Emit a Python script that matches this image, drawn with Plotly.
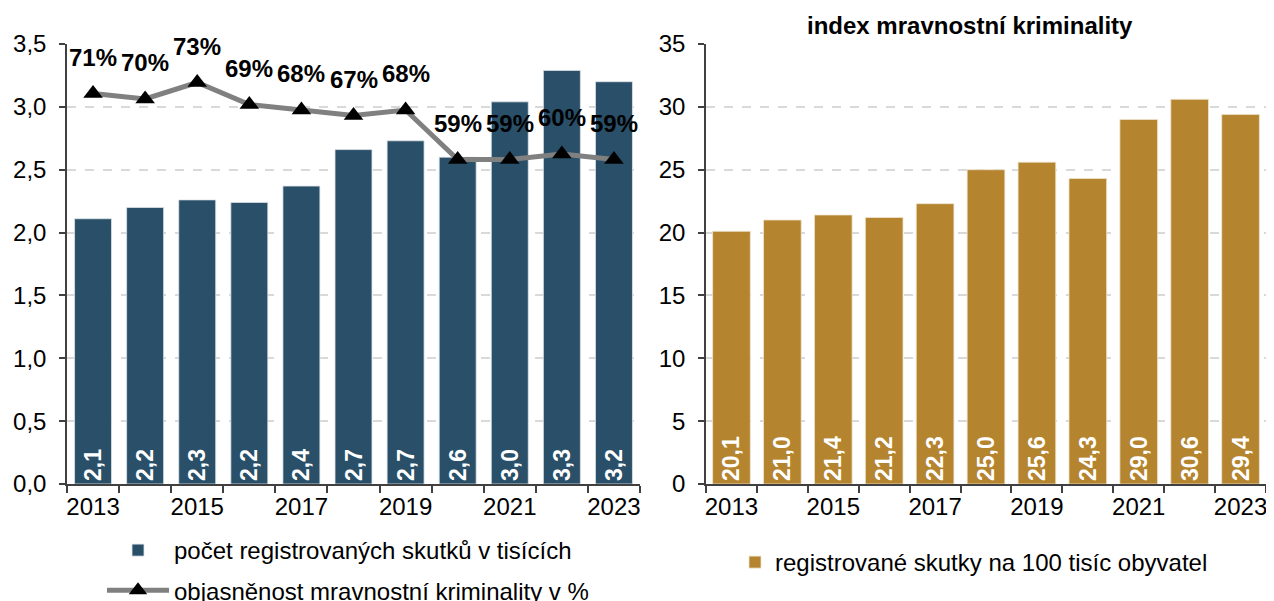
import plotly.graph_objects as go

years = [2013, 2014, 2015, 2016, 2017, 2018, 2019, 2020, 2021, 2022, 2023]
counts_thousands = [2.11, 2.20, 2.26, 2.24, 2.37, 2.66, 2.73, 2.60, 3.04, 3.29, 3.20]
clearance_pct = [71, 70, 73, 69, 68, 67, 68, 59, 59, 60, 59]
index_per_100k = [20.1, 21.0, 21.4, 21.2, 22.3, 25.0, 25.6, 24.3, 29.0, 30.6, 29.4]
tick_years = [2013, 2015, 2017, 2019, 2021, 2023]

name_counts = "počet registrovaných skutků v tisících"
name_clear = "objasněnost mravnostní kriminality v %"
name_index = "registrované skutky na 100 tisíc obyvatel"
title_right = "index mravnostní kriminality"

BLUE = "#294F69"
GOLD = "#B5842F"
GRAY = "#808080"
FONT = "Liberation Sans, Arial, sans-serif"
OFF = 8  # default page body margin
W, H = 1274 - OFF, 601 - OFF

fig = go.Figure()

fig.add_trace(go.Bar(
    x=years, y=counts_thousands, name=name_counts,
    marker=dict(color=BLUE, line=dict(color="#dfe5ea", width=0.8)),
    width=0.71,
    texttemplate="%{y:.1f}", textposition="inside", insidetextanchor="start",
    textangle=-90, textfont=dict(color="white", size=23, family=FONT, weight="bold"),
    xaxis="x", yaxis="y", legend="legend", legendgroup="a",
))
fig.add_trace(go.Scatter(
    x=years, y=clearance_pct, name=name_clear, mode="lines+markers",
    line=dict(color=GRAY, width=5),
    marker=dict(symbol="triangle-up", color="black", size=17),
    xaxis="x", yaxis="y3", legend="legend", legendgroup="b",
))
fig.add_trace(go.Bar(
    x=years, y=index_per_100k, name=name_index,
    marker=dict(color=GOLD, line=dict(color="#efe4cf", width=0.8)),
    width=0.74,
    texttemplate="%{y:.1f}", textposition="inside", insidetextanchor="start",
    textangle=-90, textfont=dict(color="white", size=23, family=FONT, weight="bold"),
    xaxis="x2", yaxis="y2", legend="legend2",
))

for yr, p in zip(years, clearance_pct):
    fig.add_annotation(x=yr, y=p, xref="x", yref="y3", text=f"{p}%",
                       showarrow=False, yanchor="bottom", yshift=21,
                       font=dict(size=24, color="black", family=FONT, weight="bold"))

def px(x):
    return (x - OFF) / W

def py(y):
    return (H - (y - OFF)) / H

ydom = [py(484), py(44)]

xcommon = dict(
    range=[2012.5, 2023.5], tickvals=tick_years, ticks="",
    showline=True, linecolor="#404040", linewidth=1.5,
    showgrid=False, zeroline=False, automargin=False,
    tickfont=dict(size=24, color="black", family=FONT),
    minor=dict(ticks="outside", tick0=2012.5, dtick=1, ticklen=7,
               tickcolor="#404040", tickwidth=1.5, showgrid=False),
)
ycommon = dict(
    showline=True, linecolor="#404040", linewidth=1.5,
    ticks="outside", ticklen=6, tickcolor="#404040", tickwidth=1.5,
    showgrid=True, gridcolor="#d9d9d9", griddash="dash", gridwidth=1.5,
    zeroline=False, automargin=False,
    tickfont=dict(size=24, color="black", family=FONT),
    ticklabelstandoff=8,
)

fig.update_layout(
    width=W, height=H,
    margin=dict(l=0, r=0, t=0, b=0, autoexpand=False),
    paper_bgcolor="white", plot_bgcolor="white",
    separators=", ",
    font=dict(family=FONT, color="black"),
    xaxis=dict(domain=[px(67), px(640)], anchor="y", **xcommon),
    yaxis=dict(domain=ydom, range=[0, 3.5], dtick=0.5, tickformat=".1f", anchor="x", **ycommon),
    yaxis3=dict(range=[0, 80], overlaying="y", visible=False, anchor="x"),
    xaxis2=dict(domain=[px(706), px(1266)], anchor="y2", **xcommon),
    yaxis2=dict(domain=ydom, range=[0, 35], dtick=5, anchor="x2", **ycommon),
    bargap=0.29,
    legend=dict(x=px(102), y=py(528), xanchor="left", yanchor="top",
                orientation="v", font=dict(size=24, family=FONT, color="black"),
                itemwidth=62, tracegroupgap=6, bgcolor="rgba(0,0,0,0)"),
    legend2=dict(x=px(735), y=py(540), xanchor="left", yanchor="top",
                 font=dict(size=24, family=FONT, color="black"),
                 bgcolor="rgba(0,0,0,0)"),
    showlegend=True,
)

fig.add_annotation(x=px(970), y=py(25), xref="paper", yref="paper",
                   text=title_right, showarrow=False, xanchor="center", yanchor="middle",
                   font=dict(size=24, family=FONT, color="black", weight="bold"))

fig.write_html("out.html")
